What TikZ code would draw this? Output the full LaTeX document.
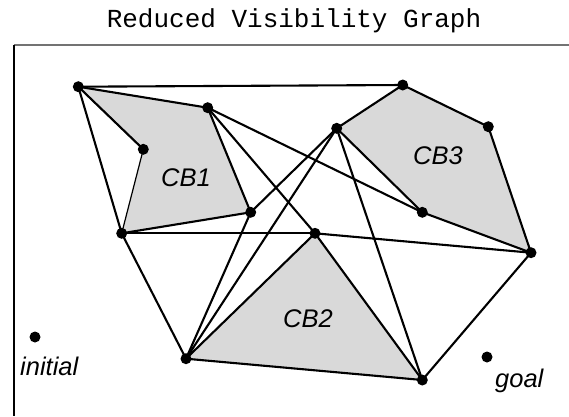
\documentclass[tikz,border=0pt]{standalone}
\usepackage{fontspec}
\setmainfont{Liberation Sans}
\newfontfamily\titlefont{Liberation Mono}
\begin{document}
\begin{tikzpicture}[x=1pt,y=-1pt,
  edge/.style={line width=2.1pt,line cap=round},
  thinedge/.style={line width=1.2pt},
  vtx/.style={circle,fill=black,inner sep=0pt,minimum size=11pt},
  obst/.style={fill=black!15},
  lbl/.style={font=\fontsize{25.5}{25.5}\selectfont\itshape,inner sep=0pt}]
\useasboundingbox (0,0) rectangle (569,416);
\fill[white] (0,0) rectangle (569,416);

% title and frame
\node[font=\titlefont\fontsize{26}{26}\selectfont,inner sep=0pt] (title) at (294,21) {Reduced Visibility Graph};
\coordinate (tl) at (14,45);
\coordinate (tr) at (569,45);
\coordinate (bl) at (14,416);
\draw[line width=2pt,black!55] (tl) -- (tr);
\draw[line width=1.2pt] (tl) -- (bl);

% vertices
\coordinate (A) at (78.3,86.7);
\coordinate (B) at (207.7,107.7);
\coordinate (C) at (250.7,212.3);
\coordinate (D) at (121.7,233.3);
\coordinate (E) at (143.3,149.3);
\coordinate (F) at (336.7,128.3);
\coordinate (G) at (402.7,85);
\coordinate (H) at (488.3,126.7);
\coordinate (I) at (531,252.7);
\coordinate (J) at (422.3,212.3);
\coordinate (K) at (315,233.3);
\coordinate (L) at (186,358.7);
\coordinate (M) at (422.3,380);
\coordinate (S) at (35,337);
\coordinate (T) at (487,357);

% obstacles
\fill[obst] (A) -- (B) -- (C) -- (D) -- (E) -- cycle;
\fill[obst] (F) -- (G) -- (H) -- (I) -- (J) -- cycle;
\fill[obst] (K) -- (L) -- (M) -- cycle;

% obstacle boundaries
\draw[edge] (E) -- (A) -- (B) -- (C) -- (D);
\draw[thinedge] (A) -- (E) -- (D);
\draw[edge] (F) -- (G) -- (H) -- (I) -- (J) -- cycle;
\draw[edge] (K) -- (L) -- (M) -- cycle;

% visibility edges
\draw[edge] (A) -- (G);
\draw[edge] (A) -- (D);
\draw[edge] (B) -- (J);
\draw[edge] (B) -- (K);
\draw[edge] (D) -- (K);
\draw[edge] (D) -- (L);
\draw[edge] (C) -- (F);
\draw[edge] (C) -- (L);
\draw[edge] (F) -- (L);
\draw[edge] (F) -- (M);
\draw[edge] (K) -- (I);
\draw[edge] (I) -- (M);

% vertex dots
\foreach \p in {A,B,C,D,E,F,G,H,I,J,K,L,M,S,T}
  \node[vtx] (v\p) at (\p) {};

% labels
\node[lbl] (cb1) at (186,178) {CB1};
\node[lbl] (cb2) at (308,319) {CB2};
\node[lbl] (cb3) at (438,156) {CB3};
\node[lbl,anchor=base west] (init) at (20,375) {initial};
\node[lbl,anchor=base west] (goal) at (495,387) {goal};
\end{tikzpicture}
\end{document}
